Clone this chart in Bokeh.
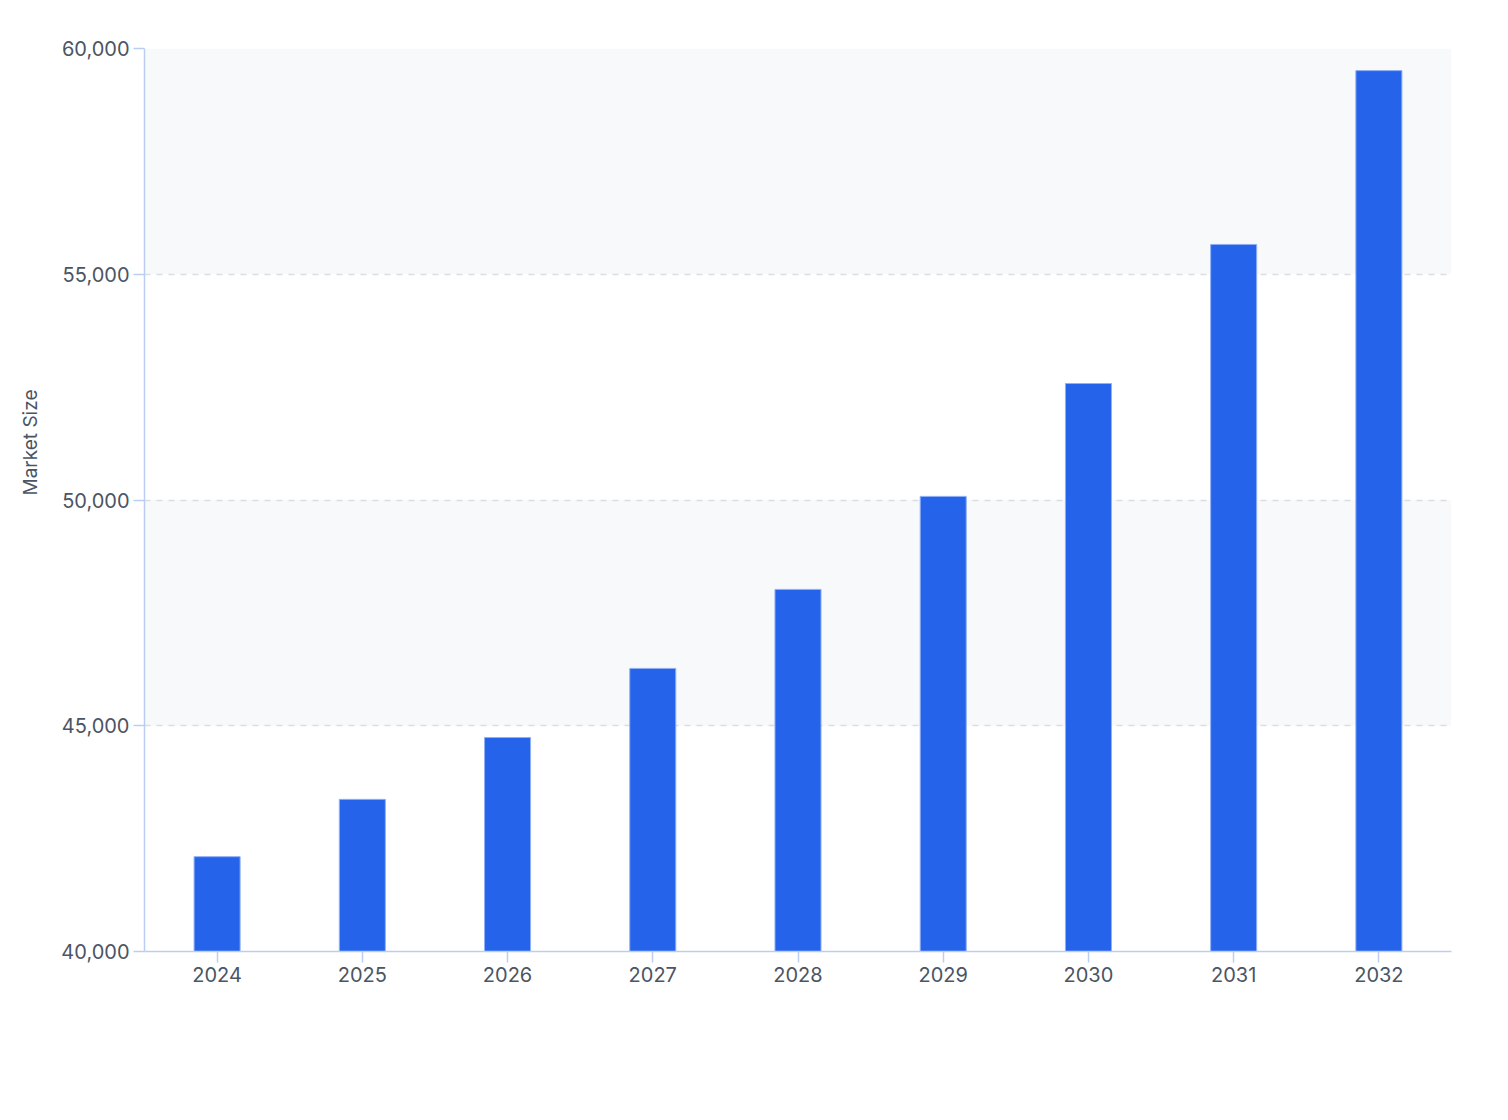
from bokeh.plotting import figure
from bokeh.models import ColumnDataSource, Range1d, FixedTicker, NumeralTickFormatter, Title
from bokeh.embed import file_html
from bokeh.resources import INLINE

# market size per year
years = ["2024", "2025", "2026", "2027", "2028", "2029", "2030", "2031", "2032"]
market_size = [42100, 43370, 44740, 46270, 48020, 50080, 52580, 55660, 59510]
y_ticks = [40000, 45000, 50000, 55000, 60000]

src = ColumnDataSource(data=dict(year=years, size=market_size))

p = figure(
    x_range=years,
    y_range=Range1d(40000, 60000),
    width=1500,
    height=1100,
    output_backend="svg",
    toolbar_location=None,
    min_border_left=144,
    min_border_right=49,
    min_border_top=48,
    min_border_bottom=149,
)
p.outline_line_color = None
p.background_fill_color = "white"

p.vbar(x="year", top="size", bottom=40000, width=0.317, source=src,
       fill_color="#2563eb", line_color="#8fb0f6", line_width=1)

# grid with alternating bands
p.xgrid.grid_line_color = None
p.ygrid.ticker = FixedTicker(ticks=y_ticks)
p.ygrid.grid_line_color = "#dadde3"
p.ygrid.grid_line_dash = "6 6"
p.ygrid.grid_line_width = 1.5
p.ygrid.band_fill_color = "#f8f9fb"
p.ygrid.band_fill_alpha = 1

# axes
p.yaxis.ticker = FixedTicker(ticks=y_ticks)
p.yaxis.formatter = NumeralTickFormatter(format="0,0")

for ax in (p.xaxis, p.yaxis):
    ax.axis_line_color = "#bccdf3"
    ax.axis_line_width = 1.5
    ax.major_tick_line_color = "#bccdf3"
    ax.major_tick_line_width = 1.5
    ax.major_tick_out = 11
    ax.major_tick_in = 0
    ax.minor_tick_line_color = None
    ax.major_label_text_font = "Inter"
    ax.major_label_text_font_size = "20px"
    ax.major_label_text_color = "#4b5563"

p.yaxis.major_label_standoff = 4
p.xaxis.major_label_standoff = 4

# y axis title: left of the tick labels, its top edge ~340px below the frame top
p.add_layout(Title(text="Market Size", align="right", vertical_align="top",
                   offset=341, standoff=30,
                   text_font="Inter", text_font_size="19px", text_font_style="normal",
                   text_color="#4b5563"), "left")

open("out.html", "w").write(file_html(p, INLINE))
